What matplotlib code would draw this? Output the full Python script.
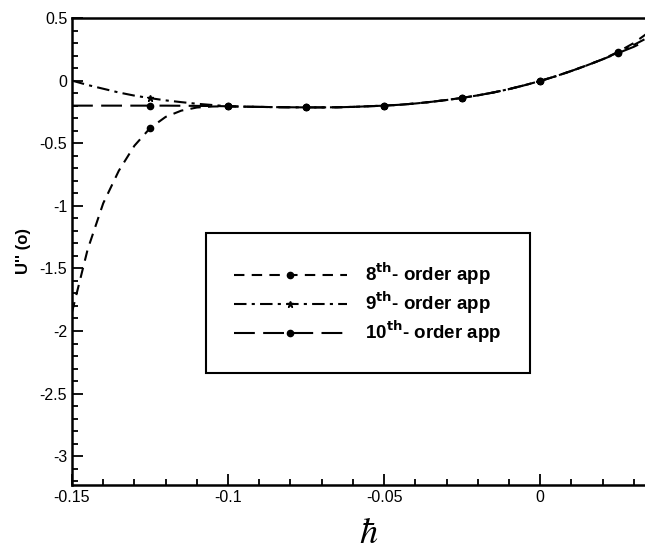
import matplotlib.pyplot as plt
from matplotlib.ticker import MultipleLocator

plt.rcParams['font.family'] = ['Liberation Sans', 'DejaVu Sans']

# hbar values
h = [-0.15, -0.145, -0.14, -0.135, -0.13, -0.125, -0.12, -0.115, -0.11, -0.105,
     -0.1, -0.095, -0.09, -0.085, -0.08, -0.075, -0.07, -0.065, -0.06, -0.055,
     -0.05, -0.045, -0.04, -0.035, -0.03, -0.025, -0.02, -0.015, -0.01, -0.005,
     0.0, 0.005, 0.01, 0.015, 0.02, 0.025, 0.03, 0.035, 0.04]

# shared part for h >= -0.1
common = [-0.205, -0.208, -0.21, -0.212, -0.213, -0.214, -0.214, -0.213, -0.21, -0.205,
          -0.2, -0.193, -0.183, -0.17, -0.155, -0.138, -0.118, -0.095, -0.068, -0.037,
          -0.003, 0.035, 0.077, 0.122, 0.17]

u8 = [-1.85, -1.35, -0.98, -0.72, -0.52, -0.38, -0.29, -0.24, -0.215, -0.207] \
    + common + [0.23, 0.3, 0.39, 0.49]
u9 = [0.0, -0.035, -0.065, -0.095, -0.12, -0.14, -0.158, -0.172, -0.185, -0.195] \
    + common + [0.225, 0.285, 0.35, 0.42]
u10 = [-0.2, -0.2, -0.2, -0.2, -0.2, -0.2, -0.2, -0.201, -0.202, -0.203] \
    + common + [0.22, 0.27, 0.33, 0.39]

labels = [r'8$^{\mathbf{th}}$- order app',
          r'9$^{\mathbf{th}}$- order app',
          r'10$^{\mathbf{th}}$- order app']

fig = plt.figure(figsize=(6.45, 5.57), dpi=100)
ax = fig.add_axes([72 / 645, 72 / 557, 593 / 645, 467 / 557])

marks = slice(5, None, 5)
ax.plot(h, u8, color='black', lw=1.5, dashes=(5, 3.5), marker='o', ms=4.5,
        markevery=marks, label=labels[0])
ax.plot(h, u9, color='black', lw=1.5, dashes=(6, 2.5, 1.5, 2.5), marker='*', ms=5,
        markevery=marks, label=labels[1])
ax.plot(h, u10, color='black', lw=1.5, dashes=(10, 4), marker='o', ms=4.5,
        markevery=marks, label=labels[2])

ax.set_xlim(-0.15, 0.04)
ax.set_ylim(-3.23, 0.5)
ax.xaxis.set_major_locator(MultipleLocator(0.05))
ax.xaxis.set_minor_locator(MultipleLocator(0.01))
ax.yaxis.set_major_locator(MultipleLocator(0.5))
ax.yaxis.set_minor_locator(MultipleLocator(0.1))
ax.set_xticks([-0.15, -0.1, -0.05, 0])
ax.set_xticklabels(['-0.15', '-0.1', '-0.05', '0'])
ax.set_yticks([0.5, 0, -0.5, -1, -1.5, -2, -2.5, -3])
ax.set_yticklabels(['0.5', '0', '-0.5', '-1', '-1.5', '-2', '-2.5', '-3'])
ax.tick_params(which='both', direction='in', labelsize=11.5, width=1.3)
ax.tick_params(which='major', length=8)
ax.tick_params(which='minor', length=4)
for s in ax.spines.values():
    s.set_linewidth(1.8)

ax.set_ylabel("U'' (o)", fontsize=12, fontweight='bold', labelpad=6)
ax.set_xlabel(r'$\hbar$', fontsize=26, labelpad=8, math_fontfamily='stix')

leg = ax.legend(loc='upper left', bbox_to_anchor=(0.21, 0.56), fancybox=False,
                edgecolor='black', framealpha=1, handlelength=6.0, borderpad=1.5,
                labelspacing=0.15, handletextpad=1.0,
                prop={'size': 13.5, 'weight': 'bold'})
leg.get_frame().set_linewidth(1.5)

fig.savefig('out.png', dpi=100)
